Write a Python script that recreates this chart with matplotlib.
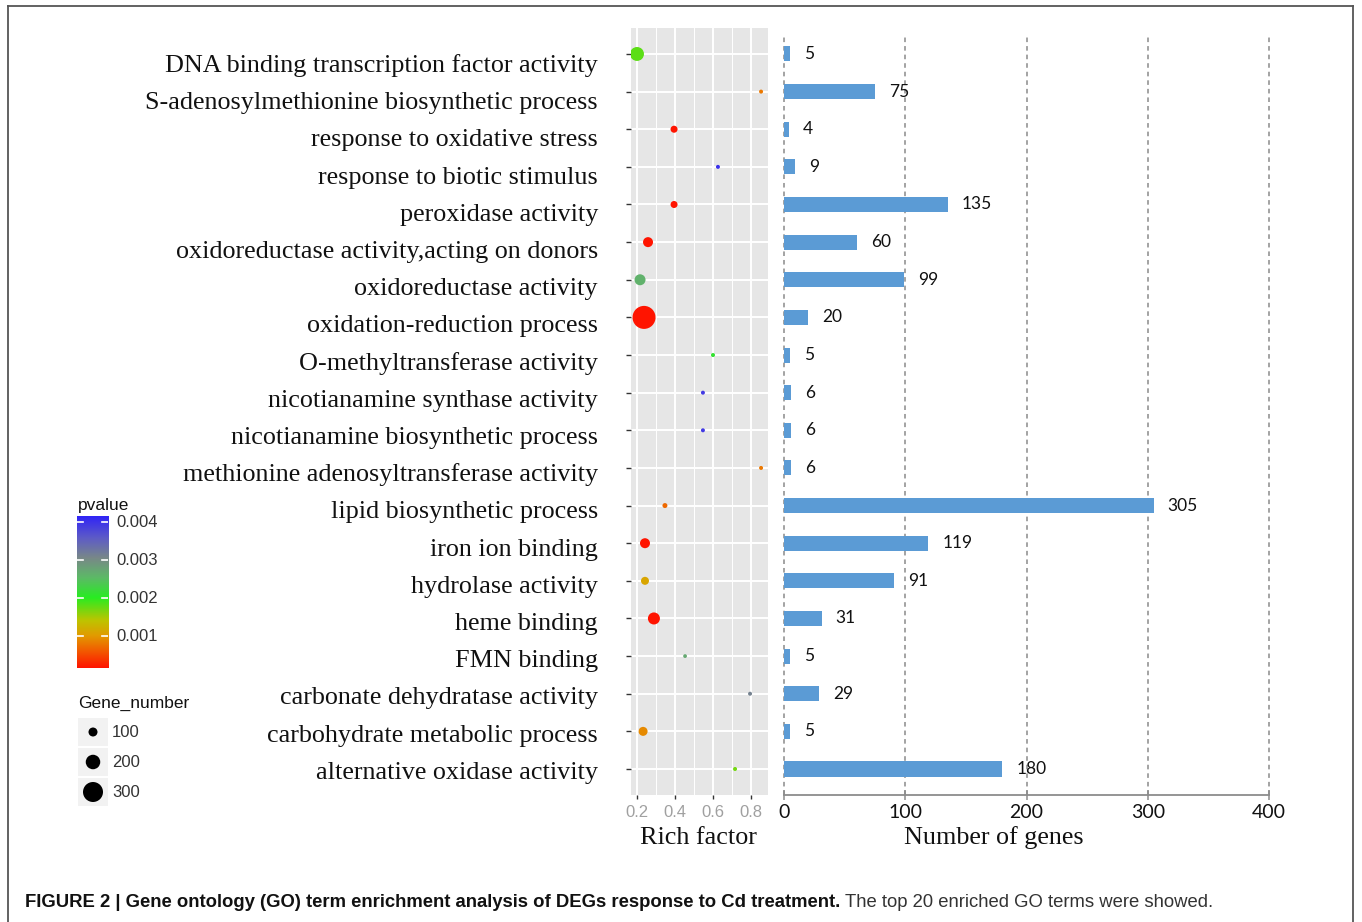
import matplotlib
matplotlib.use("Agg")
import matplotlib.pyplot as plt
import numpy as np
from matplotlib.colors import LinearSegmentedColormap, Normalize
from matplotlib.lines import Line2D
from matplotlib.patches import Rectangle
from matplotlib.transforms import blended_transform_factory

W, H, DPI = 1362, 922, 100

# ---- data -----------------------------------------------------------------
go_terms = [
    "DNA binding transcription factor activity",
    "S-adenosylmethionine biosynthetic process",
    "response to oxidative stress",
    "response to biotic stimulus",
    "peroxidase activity",
    "oxidoreductase activity,acting on donors",
    "oxidoreductase activity",
    "oxidation-reduction process",
    "O-methyltransferase activity",
    "nicotianamine synthase activity",
    "nicotianamine biosynthetic process",
    "methionine adenosyltransferase activity",
    "lipid biosynthetic process",
    "iron ion binding",
    "hydrolase activity",
    "heme binding",
    "FMN binding",
    "carbonate dehydratase activity",
    "carbohydrate metabolic process",
    "alternative oxidase activity",
]
rich_factor = [0.200, 0.853, 0.395, 0.626, 0.395, 0.258, 0.216, 0.237, 0.600, 0.547,
               0.547, 0.853, 0.347, 0.242, 0.242, 0.289, 0.453, 0.795, 0.232, 0.716]
pvalue = [0.0018, 0.0008, 0.00016, 0.0040, 0.00016, 0.00016, 0.0026, 0.00016, 0.0021, 0.0039,
          0.0039, 0.0008, 0.0007, 0.00016, 0.0011, 0.00016, 0.0027, 0.0031, 0.0009, 0.0017]
gene_number = [190, 9, 64, 9, 64, 118, 136, 355, 9, 9,
               9, 9, 27, 118, 82, 155, 5, 9, 100, 9]
num_genes = [5, 75, 4, 9, 135, 60, 99, 20, 5, 6,
             6, 6, 305, 119, 91, 31, 5, 29, 5, 180]

rich_ticks = [0.2, 0.4, 0.6, 0.8]
gene_ticks = [0, 100, 200, 300, 400]
pvalue_ticks = [0.001, 0.002, 0.003, 0.004]
size_breaks = [100, 200, 300]
p_range = (0.00016, 0.00416)

# ---- styling ----------------------------------------------------------------
SERIF = ["Liberation Serif", "DejaVu Serif"]
SANS = ["Liberation Sans", "DejaVu Sans"]
NUMS = ["Lato", "Liberation Sans"]

cmap = LinearSegmentedColormap.from_list("pval", [
    (0.00, "#FF1400"),
    (0.11, "#F25A00"),
    (0.21, "#E29A00"),
    (0.31, "#BEC400"),
    (0.46, "#28EC22"),
    (0.59, "#5CBA66"),
    (0.72, "#788888"),
    (0.85, "#5E5CC6"),
    (1.00, "#2E22F8"),
])
norm = Normalize(*p_range)


def dot_area(g):
    d_px = 3.5 + 0.055 * np.asarray(g, dtype=float)
    return (d_px * 72.0 / DPI) ** 2


fig = plt.figure(figsize=(W / DPI, H / DPI), dpi=DPI)
fig.patch.set_facecolor("white")


def px_axes(left, top, right, bottom):
    return fig.add_axes([left / W, 1 - bottom / H, (right - left) / W, (bottom - top) / H])


n = len(go_terms)
rows = np.arange(n, 0, -1)
ylim = (0.309, n + 0.69)

# ---- rich factor dot panel --------------------------------------------------
ax = px_axes(631, 28, 768, 795)
ax.set_facecolor("#E6E6E6")
ax.set_xlim(0.1684, 0.8895)
ax.set_ylim(*ylim)
for s in ax.spines.values():
    s.set_visible(False)
for x in rich_ticks:
    ax.axvline(x, color="white", lw=1.4, zorder=1)
for x in [0.3, 0.5, 0.7]:
    ax.axvline(x, color="white", lw=0.7, zorder=1)
for y in rows:
    ax.axhline(y, color="white", lw=1.4, zorder=1)
ax.scatter(rich_factor, rows, s=dot_area(gene_number), c=pvalue, cmap=cmap, norm=norm,
           edgecolors="none", zorder=3)
ax.set_xticks(rich_ticks)
ax.set_xticklabels([f"{t:.1f}" for t in rich_ticks], family=SANS, fontsize=12, color="#A0A0A0")
ax.set_yticks(rows)
ax.set_yticklabels([])
ax.tick_params(axis="x", length=3, width=1, color="#333333", pad=4)
ax.tick_params(axis="y", length=3.6, width=1, color="#333333")

# GO term labels
for i, term in enumerate(go_terms):
    fig.text(598 / W, 1 - (72 + i * 37.2) / H, term, ha="right", va="baseline",
             family=SERIF, fontsize=18.8, color="#111111")

fig.text(698 / W, 1 - 838 / H, "Rich factor", ha="center", va="center",
         family=SERIF, fontsize=18.8, color="#111111")

# ---- gene count bar panel ---------------------------------------------------
bx = px_axes(784, 28, 1269, 795)
bx.set_xlim(0, 400)
bx.set_ylim(*ylim)
for side in ["left", "right", "top"]:
    bx.spines[side].set_visible(False)
bx.spines["bottom"].set_color("#8C8C8C")
bx.spines["bottom"].set_linewidth(1.3)
grid_top = (795 - 36) / 767
for x in gene_ticks:
    bx.axvline(x, ymin=0, ymax=grid_top, color="#8A8A8A", lw=1.1,
               linestyle=(0, (3, 2.6)), zorder=1, clip_on=False)
bx.barh(rows, num_genes, height=0.4, color="#5B9BD5", zorder=2)
for y, v in zip(rows, num_genes):
    bx.text(v + 11.5, y, str(v), ha="left", va="center", family=NUMS,
            fontsize=12.5, color="#111111")
bx.set_xticks(gene_ticks)
bx.set_xticklabels([str(t) for t in gene_ticks], family=NUMS, fontsize=14, color="#111111")
bx.set_yticks([])
bx.tick_params(axis="x", direction="inout", length=7, width=1.1, color="#8C8C8C", pad=3)

fig.text(994 / W, 1 - 838 / H, "Number of genes", ha="center", va="center",
         family=SERIF, fontsize=18.8, color="#111111")

# ---- p-value colour bar -----------------------------------------------------
cb = px_axes(77, 516, 108, 668)
grad = np.linspace(p_range[0], p_range[1], 256).reshape(-1, 1)
cb.imshow(grad, cmap=cmap, norm=norm, aspect="auto", origin="lower",
          extent=[0, 1, p_range[0], p_range[1]])
cb.set_xlim(0, 1)
cb.set_ylim(*p_range)
cb.axis("off")
trans = blended_transform_factory(cb.transAxes, cb.transData)
for t in pvalue_ticks:
    cb.plot([0, 0.2], [t, t], color="white", lw=1.2, transform=trans)
    cb.plot([0.8, 1], [t, t], color="white", lw=1.2, transform=trans)
    cb.text(1.27, t, f"{t:.3f}", transform=trans, ha="left", va="center",
            family=SANS, fontsize=12, color="#333333", clip_on=False)
fig.text(78 / W, 1 - 505 / H, "pvalue", ha="left", va="center",
         family=SANS, fontsize=12.5, color="#111111")

# ---- gene number size legend ------------------------------------------------
fig.text(78 / W, 1 - 703 / H, "Gene_number", ha="left", va="center",
         family=SANS, fontsize=12.5, color="#111111")
sz = px_axes(78, 717, 108, 807)
sz.set_xlim(0, 1)
sz.set_ylim(len(size_breaks), 0)
sz.axis("off")
for k, g in enumerate(size_breaks):
    sz.add_patch(Rectangle((0, k + 0.03), 1, 0.94, facecolor="#F2F2F2", edgecolor="none"))
    sz.scatter([0.5], [k + 0.5], s=dot_area([g]), color="black", edgecolors="none", zorder=3)
    sz.text(1.13, k + 0.5, str(g), ha="left", va="center", family=SANS,
            fontsize=12, color="#333333", clip_on=False)

# ---- frame and caption ------------------------------------------------------
frame_kw = dict(color="#555555", lw=1.3, transform=fig.transFigure)
fig.add_artist(Line2D([8 / W, 8 / W], [0, 1 - 6 / H], **frame_kw))
fig.add_artist(Line2D([1353 / W, 1353 / W], [0, 1 - 6 / H], **frame_kw))
fig.add_artist(Line2D([8 / W, 1353 / W], [1 - 6 / H, 1 - 6 / H], **frame_kw))

CAP = ["Liberation Sans Narrow", "Liberation Sans"]
t1 = fig.text(25 / W, 1 - 902 / H,
              "FIGURE 2 | Gene ontology (GO) term enrichment analysis of DEGs response to Cd treatment.",
              ha="left", va="center", family=CAP, fontsize=13.3, fontweight="bold", color="#111111")
fig.canvas.draw()
bb = t1.get_window_extent()
fig.text((bb.x1 + 5) / W, 1 - 902 / H, "The top 20 enriched GO terms were showed.",
         ha="left", va="center", family=CAP, fontsize=13.3, color="#333333")

fig.savefig("out.png", dpi=DPI, facecolor="white")
